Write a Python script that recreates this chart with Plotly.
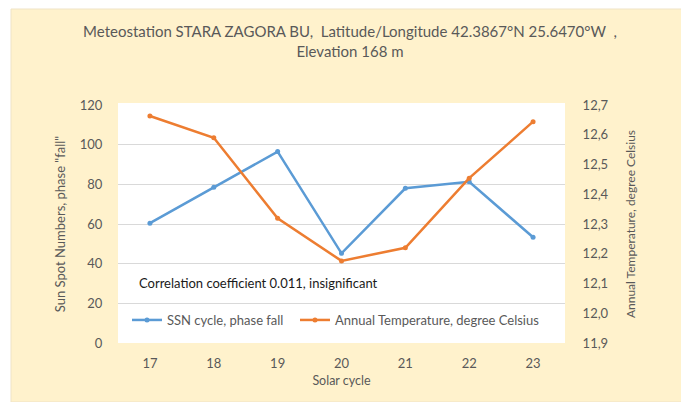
import plotly.graph_objects as go

cycles = ["17", "18", "19", "20", "21", "22", "23"]
ssn_fall = [60.4, 78.5, 96.5, 45.2, 78.0, 81.3, 53.3]
temperature = [12.663, 12.590, 12.319, 12.176, 12.220, 12.454, 12.644]
left_ticks = [0, 20, 40, 60, 80, 100, 120]
right_ticks = [11.9, 12.0, 12.1, 12.2, 12.3, 12.4, 12.5, 12.6, 12.7]
right_tick_labels = ["11,9", "12,0", "12,1", "12,2", "12,3", "12,4", "12,5", "12,6", "12,7"]

# page body has an 8px default margin: work in reference pixel coordinates, then shift
OFF = 8
W, H = 689 - OFF, 402 - OFF
L, R, T, B = 118 - OFF, 565 - OFF, 105 - OFF, 343 - OFF
pw, ph = R - L, B - T

def px(x):  # x in reference pixels
    return (x - OFF - L) / pw

def py(y):  # y in reference pixels
    return (B - (y - OFF)) / ph

FONT = "Lato"
GREY = "#595959"
BLUE = "#5B9BD5"
ORANGE = "#ED7D31"

fig = go.Figure()
fig.add_trace(go.Scatter(
    x=cycles, y=ssn_fall, name="SSN cycle, phase fall", mode="lines+markers",
    line=dict(color=BLUE, width=2.5), marker=dict(size=5, color=BLUE), yaxis="y", legend="legend"))
fig.add_trace(go.Scatter(
    x=cycles, y=temperature, name="Annual Temperature, degree Celsius", mode="lines+markers",
    line=dict(color=ORANGE, width=2.5), marker=dict(size=5, color=ORANGE), yaxis="y2", legend="legend2"))

leg_common = dict(orientation="h", yanchor="middle", xanchor="left",
                  bgcolor="rgba(0,0,0,0)", font=dict(size=13, color=GREY), itemwidth=30)

fig.update_layout(
    width=W, height=H,
    margin=dict(l=L, r=W - R, t=T, b=H - B, pad=0, autoexpand=False),
    paper_bgcolor="white",
    plot_bgcolor="rgba(0,0,0,0)",
    font=dict(family=FONT, color=GREY, size=12),
    title=dict(text="Meteostation STARA ZAGORA BU,  Latitude/Longitude 42.3867°N 25.6470°W  ,<br>Elevation 168 m",
               x=(350 - OFF) / W, xanchor="center", xref="container",
               y=1 - (37 - OFF) / H, yanchor="middle", yref="container",
               font=dict(family=FONT, size=15, color=GREY)),
    xaxis=dict(type="category", range=[-0.5, 6.5], showgrid=False, showline=False, zeroline=False,
               automargin=False,
               ticks="outside", ticklen=8, tickcolor="rgba(0,0,0,0)",
               tickfont=dict(size=13, color=GREY),
               title=dict(text="Solar cycle", font=dict(size=12.5, color=GREY), standoff=6)),
    yaxis=dict(range=[0, 120], tickvals=left_ticks, showgrid=True, gridcolor="#D9D9D9", gridwidth=1,
               zeroline=False, showline=False, automargin=False,
               ticks="outside", ticklen=12, tickcolor="rgba(0,0,0,0)",
               tickfont=dict(size=13, color=GREY),
               title=dict(text='Sun Spot Numbers, phase "fall"', font=dict(size=13, color=GREY), standoff=11)),
    yaxis2=dict(range=[11.9, 12.7], tickvals=right_ticks, ticktext=right_tick_labels,
                overlaying="y", side="right", showgrid=False, zeroline=False, showline=False,
                automargin=False,
                ticks="outside", ticklen=14, tickcolor="rgba(0,0,0,0)",
                tickfont=dict(size=13, color=GREY),
                title=dict(text="Annual Temperature, degree Celsius", font=dict(size=12, color=GREY), standoff=18)),
    legend=dict(x=px(127), y=py(320), **leg_common),
    legend2=dict(x=px(295), y=py(320), **leg_common),
    showlegend=True,
    shapes=[
        dict(type="rect", xref="paper", yref="paper", x0=px(11), x1=px(684), y0=py(402), y1=py(9),
             fillcolor="#FFF2CC", line=dict(color="#EFE3C6", width=1), layer="below"),
        dict(type="rect", xref="paper", yref="paper", x0=0, x1=1, y0=0, y1=py(103),
             fillcolor="white", line=dict(width=0), layer="below"),
    ],
    annotations=[
        dict(text="Correlation coefficient 0.011, insignificant", xref="paper", yref="paper",
             x=px(137), y=py(283), xanchor="left", yanchor="middle", showarrow=False,
             font=dict(family=FONT, size=13, color="#1a1a1a")),
    ],
)

fig.write_html("out.html")
